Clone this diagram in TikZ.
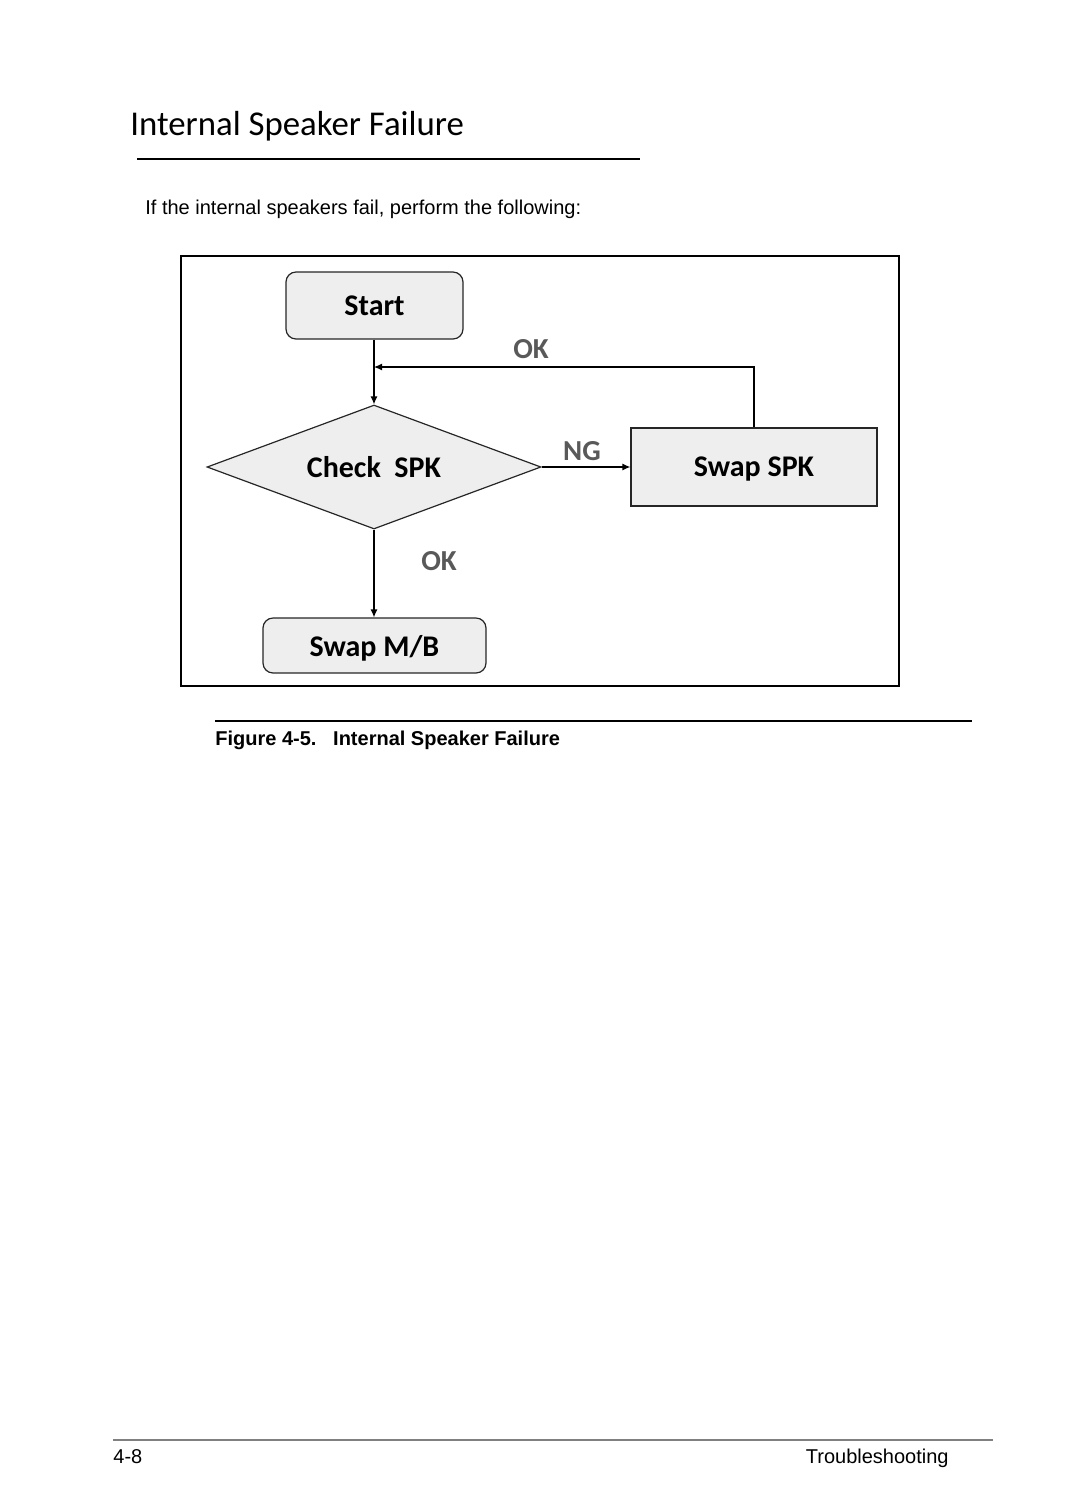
\documentclass[tikz,border=0pt]{standalone}
\usepackage{fontspec}
\setmainfont{Liberation Sans}
\newfontfamily\flowfont{Carlito}
\usetikzlibrary{positioning,shapes.geometric,arrows.meta}
\definecolor{boxgray}{HTML}{EEEEEE}
\definecolor{labelgray}{HTML}{595959}

\begin{document}
\begin{tikzpicture}[x=0.5pt,y=-0.5pt,
    flowbox/.style={draw=black!85,fill=boxgray,line width=0.6pt,inner sep=0pt,text depth=0pt,font=\flowfont\bfseries\fontsize{15}{17}\selectfont},
    roundbox/.style={flowbox,rounded corners=5pt},
    decision/.style={flowbox,diamond,aspect=2.69},
    answer/.style={text=labelgray,font=\flowfont\bfseries\fontsize{14.5}{16}\selectfont},
    flow/.style={-{Latex[length=4pt,width=3.5pt]},line width=0.6pt}]
    \useasboundingbox (0,0) rectangle (1080,1512);
    % heading
    \node [anchor=base west,inner sep=0pt,font=\flowfont\fontsize{17.4}{20}\selectfont] (title) at (130,135) {Internal Speaker Failure};
    \draw [line width=1pt] (137,159) -- (640,159);
    \node [anchor=base west,inner sep=0pt,font=\fontsize{10}{12}\selectfont] (intro) at (145,214) {If the internal speakers fail, perform the following:};
    % chart
    \draw [line width=1pt] (181,256) rectangle (899,686);
    \node [roundbox,minimum width=88.5pt,minimum height=33.5pt] (start) at (374.5,305.5) {Start};
    \node [decision,minimum width=167pt,minimum height=62pt] (check) at (374,467) {Check\ \ SPK};
    \node [flowbox,minimum width=123pt,minimum height=39pt] (swapspk) at (754,467) {Swap SPK};
    \node [roundbox,minimum width=111.5pt,minimum height=27.5pt] (swapmb) at (374.5,645.5) {Swap M/B};
    \coordinate (join) at (374,367);
    \draw [flow] (start.south -| check.north) -- (check.north);
    \draw [flow] (swapspk.north) |- (join);
    \draw [flow] (check.east) -- (swapspk.west);
    \draw [flow] (check.south) -- (swapmb.north -| check.south);
    \node [answer] (ok1) at (531,349) {OK};
    \node [answer] (ng) at (582,451) {NG};
    \node [answer] (ok2) at (439,561) {OK};
    % caption
    \draw [line width=0.6pt] (215,721) -- (972,721);
    \node [anchor=base west,inner sep=0pt,font=\bfseries\fontsize{10}{12}\selectfont] (caption) at (215,745) {Figure 4-5.\ \ \ Internal Speaker Failure};
    % footer
    \draw [line width=1pt,black!50] (113,1440) -- (993,1440);
    \node [anchor=base west,inner sep=0pt,font=\fontsize{10}{12}\selectfont] (page) at (113,1463) {4-8};
    \node [anchor=base east,inner sep=0pt,font=\fontsize{10}{12}\selectfont] (chapter) at (949,1463) {Troubleshooting};
\end{tikzpicture}
\end{document}
